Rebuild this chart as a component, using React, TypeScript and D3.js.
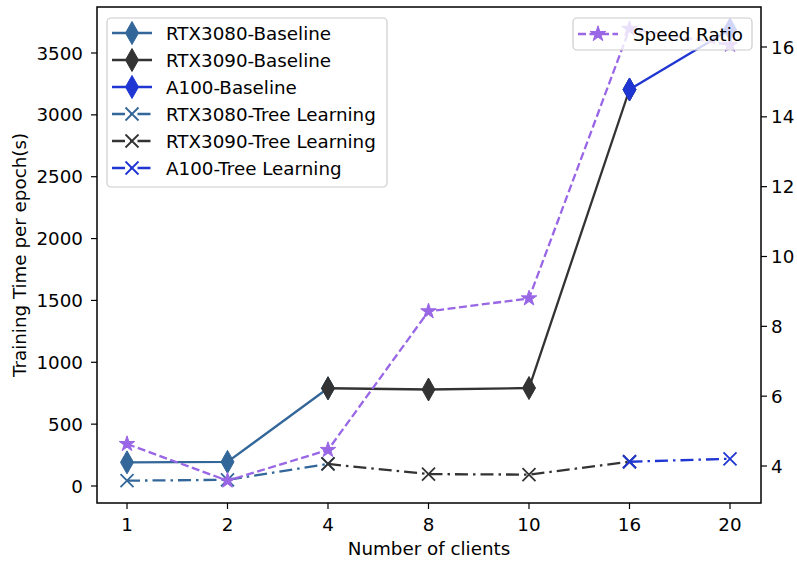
import React from "react";
import * as d3 from "d3";

const clients = ["1", "2", "4", "8", "10", "16", "20"];
const leftTicks = [0, 500, 1000, 1500, 2000, 2500, 3000, 3500];
const rightTicks = [4, 6, 8, 10, 12, 14, 16];

// series: x categories and values
const rtx3080BaselineX = ["1", "2", "4"];
const rtx3080Baseline = [191, 195, 790];
const rtx3090BaselineX = ["4", "8", "10", "16"];
const rtx3090Baseline = [790, 780, 792, 3205];
const a100BaselineX = ["16", "20"];
const a100Baseline = [3205, 3690];
const rtx3080TreeX = ["1", "2", "4"];
const rtx3080Tree = [43, 50, 178];
const rtx3090TreeX = ["4", "8", "10", "16"];
const rtx3090Tree = [178, 96, 92, 196];
const a100TreeX = ["16", "20"];
const a100Tree = [196, 220];
const speedRatio = [4.63, 3.58, 4.46, 8.43, 8.8, 16.52, 16.06];

const C3080 = "#336699";
const C3090 = "#333333";
const CA100 = "#1f36d3";
const CSR = "#9966e6";
const FONT = "DejaVu Sans";
const FS = 18.3;

const L = 97, R = 761, T = 7, B = 503;

const x = d3.scalePoint<string>().domain(clients).range([127, 730]);
const yL = d3.scaleLinear().domain([0, 3500]).range([486, 53]);
const yR = d3.scaleLinear().domain([4, 16]).range([466, 47]);

const diamond = (cx: number, cy: number) => {
  const w = 6.5, h = 11.5;
  return `M${cx},${cy - h}L${cx + w},${cy}L${cx},${cy + h}L${cx - w},${cy}Z`;
};
const cross = (cx: number, cy: number) => {
  const s = 6.5;
  return `M${cx - s},${cy - s}L${cx + s},${cy + s}M${cx - s},${cy + s}L${cx + s},${cy - s}`;
};
const starPath = d3.symbol().type(d3.symbolStar).size(75);

type Series = { xs: string[]; ys: number[]; color: string; kind: "base" | "tree"; label: string };
const series: Series[] = [
  { xs: rtx3080BaselineX, ys: rtx3080Baseline, color: C3080, kind: "base", label: "RTX3080-Baseline" },
  { xs: rtx3090BaselineX, ys: rtx3090Baseline, color: C3090, kind: "base", label: "RTX3090-Baseline" },
  { xs: a100BaselineX, ys: a100Baseline, color: CA100, kind: "base", label: "A100-Baseline" },
  { xs: rtx3080TreeX, ys: rtx3080Tree, color: C3080, kind: "tree", label: "RTX3080-Tree Learning" },
  { xs: rtx3090TreeX, ys: rtx3090Tree, color: C3090, kind: "tree", label: "RTX3090-Tree Learning" },
  { xs: a100TreeX, ys: a100Tree, color: CA100, kind: "tree", label: "A100-Tree Learning" },
];

const DASHDOT = "13,5,2.5,5";
const DASHED = "8,3.5";
const LW = 2.3;

function Marker({ kind, cx, cy, color }: { kind: string; cx: number; cy: number; color: string }) {
  if (kind === "base") return <path d={diamond(cx, cy)} fill={color} stroke={color} strokeWidth={1} />;
  if (kind === "tree") return <path d={cross(cx, cy)} fill="none" stroke={color} strokeWidth={1.8} />;
  return <path d={starPath() as string} transform={`translate(${cx},${cy})`} fill={CSR} stroke={CSR} strokeWidth={1} />;
}

export default function App() {
  const line = d3.line<[number, number]>();
  const legendRows = series.map((s, i) => ({ ...s, y: 33 + i * 27 }));
  return (
    <svg width={797} height={561} style={{ position: "absolute", left: 0, top: 0, fontFamily: FONT }}>
      <rect width={797} height={561} fill="#fff" />
      {/* primary series */}
      {series.map((s, i) => {
        const pts = s.xs.map((c, j) => [x(c)!, yL(s.ys[j])] as [number, number]);
        return (
          <g key={i}>
            <path d={line(pts)!} fill="none" stroke={s.color} strokeWidth={LW}
              strokeDasharray={s.kind === "tree" ? DASHDOT : undefined} />
            {pts.map((p, j) => <Marker key={j} kind={s.kind} cx={p[0]} cy={p[1]} color={s.color} />)}
          </g>
        );
      })}
      {/* primary legend */}
      <g>
        <rect x={107} y={18} width={280} height={169} rx={4} fill="#fff" fillOpacity={0.8} stroke="#cccccc" strokeWidth={1.2} />
        {legendRows.map((s, i) => (
          <g key={i}>
            <path d={`M112,${s.y}L152,${s.y}`} stroke={s.color} strokeWidth={LW}
              strokeDasharray={s.kind === "tree" ? DASHDOT : undefined} />
            <Marker kind={s.kind} cx={132} cy={s.y} color={s.color} />
            <text x={166} y={s.y} dy="0.36em" fontSize={FS} fill="#000">{s.label}</text>
          </g>
        ))}
      </g>
      {/* secondary series */}
      {(() => {
        const pts = clients.map((c, j) => [x(c)!, yR(speedRatio[j])] as [number, number]);
        return (
          <g>
            <path d={line(pts)!} fill="none" stroke={CSR} strokeWidth={LW} strokeDasharray={DASHED} />
            {pts.map((p, j) => <Marker key={j} kind="star" cx={p[0]} cy={p[1]} color={CSR} />)}
          </g>
        );
      })()}
      <g>
        <rect x={573} y={18} width={179} height={32} rx={4} fill="#fff" fillOpacity={0.8} stroke="#cccccc" strokeWidth={1.2} />
        <path d="M578,34L618,34" stroke={CSR} strokeWidth={LW} strokeDasharray={DASHED} />
        <Marker kind="star" cx={598} cy={34} color={CSR} />
        <text x={633} y={34} dy="0.36em" fontSize={FS} fill="#000">Speed Ratio</text>
      </g>
      {/* frame */}
      <rect x={L} y={T} width={R - L} height={B - T} fill="none" stroke="#000" strokeWidth={1.5} />
      {/* left ticks */}
      {leftTicks.map((t) => (
        <g key={t}>
          <line x1={L} x2={L - 6} y1={yL(t)} y2={yL(t)} stroke="#000" strokeWidth={1.2} />
          <text x={L - 14} y={yL(t)} dy="0.36em" textAnchor="end" fontSize={FS}>{t}</text>
        </g>
      ))}
      {rightTicks.map((t) => (
        <g key={t}>
          <line x1={R} x2={R + 6} y1={yR(t)} y2={yR(t)} stroke="#000" strokeWidth={1.2} />
          <text x={R + 10} y={yR(t)} dy="0.36em" textAnchor="start" fontSize={FS}>{t}</text>
        </g>
      ))}
      {clients.map((c) => (
        <g key={c}>
          <line x1={x(c)!} x2={x(c)!} y1={B} y2={B + 6} stroke="#000" strokeWidth={1.2} />
          <text x={x(c)!} y={530.5} textAnchor="middle" fontSize={FS}>{c}</text>
        </g>
      ))}
      <text x={429} y={555} textAnchor="middle" fontSize={FS}>Number of clients</text>
      <text transform={`translate(26,${(T + B) / 2}) rotate(-90)`} textAnchor="middle" fontSize={FS}>Training Time per epoch(s)</text>
    </svg>
  );
}
